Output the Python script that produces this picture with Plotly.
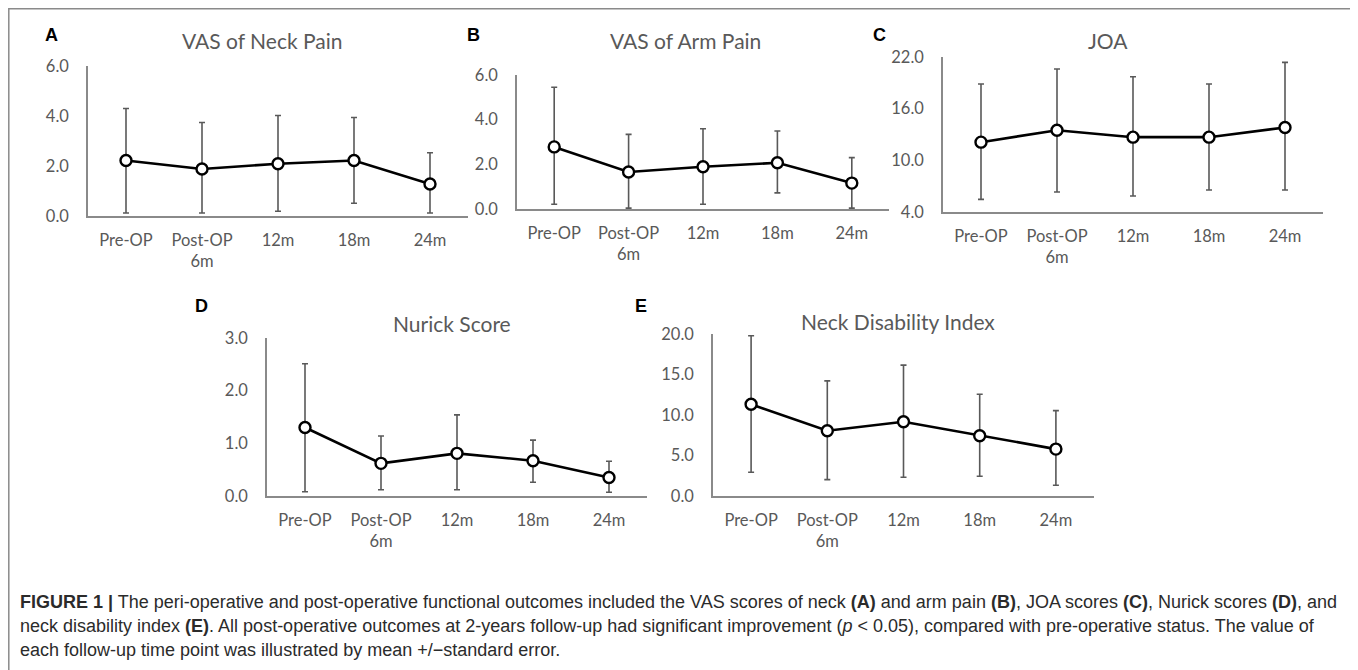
import plotly.graph_objects as go

# Reference canvas is 1358x670; the page adds an 8px body margin, so the
# figure is drawn 8px smaller and all layout pixel positions are shifted.
REF_W, REF_H = 1358, 670
OFF = 8
W, H = REF_W - OFF, REF_H - OFF


def px_x(v):
    return (v - OFF) / W


def px_y(v):
    return 1 - (v - OFF) / H


categories = ["Pre-OP", "Post-OP<br>6m", "12m", "18m", "24m"]

neck_mean = [2.22, 1.88, 2.09, 2.22, 1.28]
neck_hi = [4.30, 3.74, 4.02, 3.94, 2.53]
neck_lo = [0.12, 0.12, 0.19, 0.51, 0.12]

arm_mean = [2.78, 1.66, 1.89, 2.07, 1.16]
arm_hi = [5.45, 3.34, 3.59, 3.49, 2.30]
arm_lo = [0.21, 0.04, 0.21, 0.72, 0.04]

joa_mean = [12.11, 13.50, 12.69, 12.69, 13.81]
joa_hi = [18.86, 20.60, 19.71, 18.86, 21.38]
joa_lo = [5.47, 6.33, 5.86, 6.56, 6.56]

nurick_mean = [1.30, 0.62, 0.81, 0.67, 0.35]
nurick_hi = [2.51, 1.14, 1.54, 1.06, 0.66]
nurick_lo = [0.08, 0.12, 0.12, 0.26, 0.07]

ndi_mean = [11.32, 8.06, 9.17, 7.44, 5.79]
ndi_hi = [19.79, 14.21, 16.16, 12.56, 10.54]
ndi_lo = [2.93, 2.02, 2.31, 2.44, 1.32]

panels = [
    dict(letter="A", title="VAS of Neck Pain", mean=neck_mean, hi=neck_hi, lo=neck_lo,
         ticks=[0, 2, 4, 6], rng=[0, 6], x=(88, 468), y=(66, 216),
         title_xy=(262, 40), letter_xy=(52, 35)),
    dict(letter="B", title="VAS of Arm Pain", mean=arm_mean, hi=arm_hi, lo=arm_lo,
         ticks=[0, 2, 4, 6], rng=[0, 6], x=(517, 889), y=(75, 209),
         title_xy=(685, 41), letter_xy=(473, 35)),
    dict(letter="C", title="JOA", mean=joa_mean, hi=joa_hi, lo=joa_lo,
         ticks=[4, 10, 16, 22], rng=[4, 22], x=(943, 1323), y=(57, 212),
         title_xy=(1108, 41), letter_xy=(879, 35)),
    dict(letter="D", title="Nurick Score", mean=nurick_mean, hi=nurick_hi, lo=nurick_lo,
         ticks=[0, 1, 2, 3], rng=[0, 3], x=(267, 647), y=(338, 496),
         title_xy=(452, 323), letter_xy=(201, 306)),
    dict(letter="E", title="Neck Disability Index", mean=ndi_mean, hi=ndi_hi, lo=ndi_lo,
         ticks=[0, 5, 10, 15, 20], rng=[0, 20], x=(713, 1094), y=(334, 496),
         title_xy=(898, 321), letter_xy=(641, 306)),
]

TICK_FONT = dict(family="Lato, Open Sans, sans-serif", size=16.5, color="#595959")
AXIS_COLOR = "#8a8a8a"

fig = go.Figure()
annotations = []
layout = {}

for i, p in enumerate(panels):
    n = "" if i == 0 else str(i + 1)
    xa, ya = "x" + n, "y" + n
    err_plus = [h - m for h, m in zip(p["hi"], p["mean"])]
    err_minus = [m - l for m, l in zip(p["mean"], p["lo"])]
    fig.add_trace(go.Scatter(
        x=categories, y=p["mean"], mode="markers",
        marker=dict(size=1, color="rgba(0,0,0,0)"),
        error_y=dict(type="data", array=err_plus, arrayminus=err_minus,
                     color="#595959", thickness=1.6, width=3),
        xaxis=xa, yaxis=ya, showlegend=False, hoverinfo="skip"))
    fig.add_trace(go.Scatter(
        x=categories, y=p["mean"], mode="lines+markers",
        line=dict(color="black", width=2.6),
        marker=dict(size=11, color="white", line=dict(color="black", width=2.4)),
        xaxis=xa, yaxis=ya, showlegend=False))
    layout["xaxis" + n] = dict(
        domain=[px_x(p["x"][0]), px_x(p["x"][1])], anchor=ya, automargin=False,
        type="category", range=[-0.5, 4.5],
        showline=True, linecolor=AXIS_COLOR, linewidth=1.6,
        showgrid=False, zeroline=False, ticks="", tickfont=TICK_FONT,
        ticklabelstandoff=8, fixedrange=True)
    layout["yaxis" + n] = dict(
        domain=[px_y(p["y"][1]), px_y(p["y"][0])], anchor=xa, automargin=False,
        range=p["rng"], tickvals=p["ticks"], tickformat=".1f",
        showline=True, linecolor=AXIS_COLOR, linewidth=1.6,
        showgrid=False, zeroline=False, ticks="", tickfont=TICK_FONT,
        ticklabelstandoff=14, fixedrange=True)
    annotations.append(dict(
        text=p["title"], x=px_x(p["title_xy"][0]), y=px_y(p["title_xy"][1]),
        xref="paper", yref="paper", xanchor="center", yanchor="middle",
        showarrow=False, font=dict(family="Lato, Open Sans, sans-serif", size=21, color="#595959")))
    annotations.append(dict(
        text="<b>" + p["letter"] + "</b>", x=px_x(p["letter_xy"][0]), y=px_y(p["letter_xy"][1]),
        xref="paper", yref="paper", xanchor="center", yanchor="middle",
        showarrow=False, font=dict(family="Liberation Sans, Arial, sans-serif", size=18, color="black")))

caption_lines = [
    "<b>FIGURE 1 |</b> The peri-operative and post-operative functional outcomes included the VAS scores of neck "
    "<b>(A)</b> and arm pain <b>(B)</b>, JOA scores <b>(C)</b>, Nurick scores <b>(D)</b>, and",
    "neck disability index <b>(E)</b>. All post-operative outcomes at 2-years follow-up had significant improvement "
    "(<i>p</i> &lt; 0.05), compared with pre-operative status. The value of",
    "each follow-up time point was illustrated by mean +/\u2212standard error.",
]
caption_y = [602, 626, 650]
for line, yy in zip(caption_lines, caption_y):
    annotations.append(dict(
        text=line, x=px_x(18), y=px_y(yy), xref="paper", yref="paper",
        xanchor="left", yanchor="middle", align="left", showarrow=False,
        font=dict(family="Liberation Sans, Arial, sans-serif", size=18, color="#2b2b2b")))

shapes = [dict(type="rect", xref="paper", yref="paper",
               x0=px_x(8.8), x1=px_x(1356), y0=-0.05, y1=px_y(8.8),
               line=dict(color="#8a8a8a", width=1.5), fillcolor="rgba(0,0,0,0)")]

fig.update_layout(
    width=W, height=H, margin=dict(l=0, r=0, t=0, b=0, autoexpand=False),
    paper_bgcolor="white", plot_bgcolor="white",
    annotations=annotations, shapes=shapes, showlegend=False, **layout)

fig.write_html("out.html")
